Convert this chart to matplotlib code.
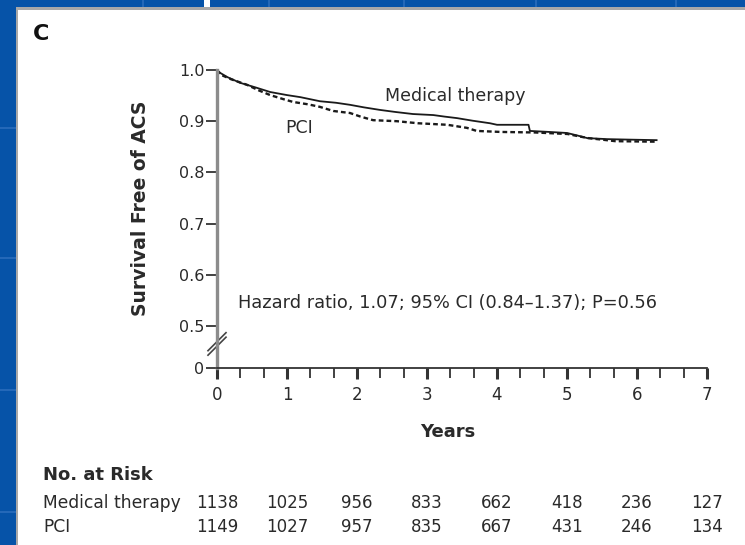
import matplotlib
matplotlib.use("Agg")
import matplotlib.pyplot as plt
import matplotlib.transforms as mtransforms
from matplotlib.patches import Rectangle
from matplotlib.lines import Line2D

# Kaplan-Meier curves (years, survival free of ACS)
med_years = [0.0, 0.05, 0.15, 0.33, 0.55, 0.76, 1.0, 1.19, 1.47, 1.7, 1.9, 2.1, 2.33, 2.55, 2.8, 3.09, 3.25,
             3.43, 3.65, 3.9, 4.0, 4.45, 4.47, 4.75, 5.0, 5.15, 5.29, 5.57, 5.9, 6.28]
med_surv = [1.0, 0.994, 0.986, 0.975, 0.966, 0.957, 0.951, 0.947, 0.939, 0.936, 0.932, 0.927, 0.922, 0.918,
            0.914, 0.912, 0.909, 0.906, 0.901, 0.896, 0.893, 0.893, 0.881, 0.879, 0.877, 0.872, 0.867, 0.865,
            0.864, 0.863]

pci_years = [0.0, 0.05, 0.2, 0.43, 0.6, 0.76, 0.95, 1.09, 1.3, 1.47, 1.66, 1.9, 2.05, 2.23, 2.57, 2.87, 3.29,
             3.57, 3.71, 4.06, 4.54, 5.01, 5.15, 5.3, 5.5, 5.69, 6.27]
pci_surv = [1.0, 0.991, 0.982, 0.971, 0.96, 0.951, 0.943, 0.9375, 0.933, 0.928, 0.92, 0.916, 0.909, 0.902,
            0.9, 0.896, 0.893, 0.887, 0.881, 0.879, 0.878, 0.875, 0.871, 0.867, 0.864, 0.861, 0.86]

risk_years = [0, 1, 2, 3, 4, 5, 6, 7]
risk_med = [1138, 1025, 956, 833, 662, 418, 236, 127]
risk_pci = [1149, 1027, 957, 835, 667, 431, 246, 134]

y_ticks = [0.5, 0.6, 0.7, 0.8, 0.9, 1.0]
y_zero = 0.418   # where the broken axis puts "0"

plt.rcParams['font.family'] = ['DejaVu Sans']
TXT = '#2a2a2a'

W, H = 745, 545
fig = plt.figure(figsize=(W / 100, H / 100), dpi=100)
fig.patch.set_facecolor('#0653a8')

# slide background: faint grid on the blue, white panel on top
for gx in [143, 269, 404, 536, 676]:
    fig.add_artist(Line2D([gx / W, gx / W], [0, 1], color='#3a78c4', lw=1.2, alpha=0.7, zorder=-5))
for gy in [128, 258, 390, 512]:
    fig.add_artist(Line2D([0, 1], [1 - gy / H, 1 - gy / H], color='#3a78c4', lw=1.2, alpha=0.7, zorder=-5))
fig.add_artist(Rectangle((204 / W, 1 - 9 / H), 6 / W, 9 / H, color='white', lw=0, zorder=-4))
fig.add_artist(Rectangle((16 / W, 0), 1, 1 - 7 / H, color='#a8a8a8', lw=0, zorder=-3))
fig.add_artist(Rectangle((18 / W, 0), 1, 1 - 10 / H, color='white', lw=0, zorder=-2))

ax = fig.add_axes([217 / W, 1 - 368 / H, 490 / W, 298 / H])
ax.set_facecolor('none')

ax.plot(med_years, med_surv, color='#1a1a1a', lw=1.3, clip_on=False)
ax.plot(pci_years, pci_surv, color='#1a1a1a', lw=1.7,
        linestyle=(0, (2.0, 1.3)), clip_on=False)

ax.set_xlim(0, 7)
ax.set_ylim(y_zero, 1.0)

ax.set_yticks([y_zero] + y_ticks)
ax.set_yticklabels(['0'] + ['%.1f' % v for v in y_ticks])
ax.set_xticks(risk_years)
ax.set_xticks([i / 3 for i in range(22)], minor=True)

for side in ['top', 'right']:
    ax.spines[side].set_visible(False)
ax.spines['left'].set_color('#8c8c8c')
ax.spines['left'].set_linewidth(2.4)
ax.spines['bottom'].set_color('#333333')
ax.spines['bottom'].set_linewidth(1.3)

ax.tick_params(axis='y', direction='out', length=8, width=1.3, color='#333333',
               labelsize=11.5, labelcolor=TXT, pad=1)
ax.tick_params(axis='x', which='major', direction='out', length=8, width=2.2, color='#333333',
               labelsize=12, labelcolor=TXT, pad=5)
ax.tick_params(axis='x', which='minor', direction='out', length=7, width=1.3, color='#333333')

# axis break marks
yb = (0.465 - y_zero) / (1 - y_zero)
dx, dy, off = 9 / 490, 9 / 298, 4.5 / 298
for o in [-off / 2, off / 2]:
    ax.plot([-dx, dx], [yb - dy + o, yb + dy + o], transform=ax.transAxes,
            color='#444444', lw=1.2, clip_on=False)

ax.text(2.4, 0.949, 'Medical therapy', fontsize=12.5, color=TXT, va='center', ha='left')
ax.text(0.97, 0.887, 'PCI', fontsize=12.5, color=TXT, va='center', ha='left')
ax.text(0.3, 0.545, 'Hazard ratio, 1.07; 95% CI (0.84\u20131.37); P=0.56', fontsize=12.8,
        color=TXT, va='center', ha='left')

fig.text(140 / W, 1 - 208 / H, 'Survival Free of ACS', rotation=90, fontsize=13.5,
         fontweight='bold', color=TXT, ha='center', va='center')
fig.text(448 / W, 1 - 432 / H, 'Years', fontsize=13, fontweight='bold', color=TXT,
         ha='center', va='center')
fig.text(41 / W, 1 - 34 / H, 'C', fontsize=16, fontweight='bold', color='#111111',
         ha='center', va='center')

# number at risk table
tr = mtransforms.blended_transform_factory(ax.transData, fig.transFigure)
fig.text(43 / W, 1 - 475 / H, 'No. at Risk', fontsize=13, fontweight='bold', color=TXT,
         ha='left', va='center')
fig.text(43 / W, 1 - 503 / H, 'Medical therapy', fontsize=12.3, color=TXT, ha='left', va='center')
fig.text(43 / W, 1 - 527 / H, 'PCI', fontsize=12.3, color=TXT, ha='left', va='center')
for x, m, p in zip(risk_years, risk_med, risk_pci):
    ax.text(x, 1 - 503 / H, str(m), transform=tr, fontsize=12, color=TXT, ha='center', va='center')
    ax.text(x, 1 - 527 / H, str(p), transform=tr, fontsize=12, color=TXT, ha='center', va='center')

fig.savefig('out.png', dpi=100, facecolor=fig.get_facecolor())
